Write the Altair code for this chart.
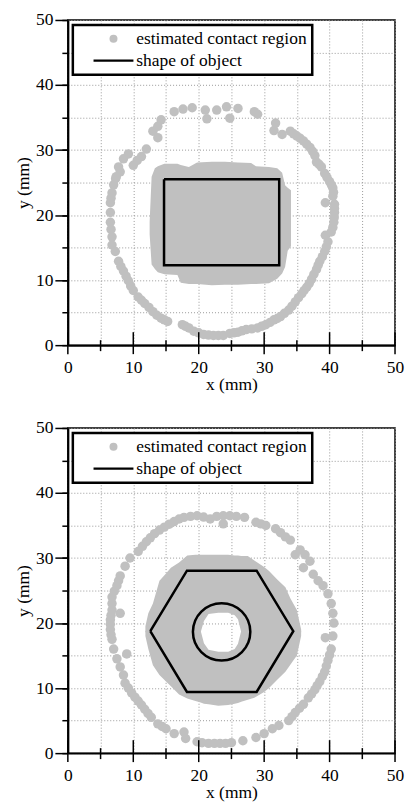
import altair as alt
import pandas as pd

LABEL_REGION = "estimated contact region"
LABEL_SHAPE = "shape of object"
SERIES = [LABEL_REGION, LABEL_SHAPE]

# ---------------- panel 1 (rectangle) ----------------
ring1_x = [16.25, 17.6, 19.0, 21.0, 21.25, 22.75, 24.25, 24.75, 26.0, 28.5, 29.0,
           14.25, 13.75, 13.0, 13.75, 12.0, 11.25, 10.6, 10.0, 9.25, 8.5, 7.75, 8.0, 7.4, 7.3, 7.0, 6.75, 6.6, 6.5, 6.5, 6.5, 6.6, 6.75, 6.75,
           7.25, 7.75, 8.1, 8.5, 8.9, 9.25, 9.6, 10.0, 10.75, 11.25, 11.75, 12.4, 13.0, 13.6, 14.25, 14.75, 15.25,
           17.5, 18.0, 18.5, 19.25, 20.0, 20.75, 21.5, 22.25, 23.0, 23.75, 24.75, 25.4, 26.0, 26.6, 27.25, 28.1, 29.0, 29.6,
           30.25, 30.9, 31.5, 32.0, 32.5, 33.1, 33.75,
           34.25, 34.75, 35.25, 35.75, 36.1, 36.5, 36.9, 37.25, 37.6, 38.0, 38.25, 38.5, 38.9, 39.25, 39.5, 39.75, 39.35,
           40.25, 40.5, 40.65, 40.7, 40.75, 40.75, 40.75, 39.35, 40.5, 40.6, 40.5, 40.3, 40.0,
           39.6, 39.25, 38.75, 38.4, 38.0, 37.75, 37.4, 37.0, 36.5, 36.0, 35.5, 35.0, 34.5, 34.0, 32.75, 31.5, 31.75]
ring1_y = [35.9, 36.3, 36.5, 36.15, 34.8, 36.15, 36.65, 34.9, 36.4, 35.9, 35.5,
           34.65, 33.65, 32.9, 31.9, 30.15, 29.0, 28.4, 27.65, 29.4, 28.65, 27.4, 26.65, 25.9, 25.6, 24.65, 23.4, 22.6, 21.9, 20.4, 18.9, 17.8, 16.65, 15.4,
           14.4, 12.9, 12.1, 11.4, 10.6, 9.9, 9.1, 8.4, 7.4, 6.9, 6.4, 5.8, 5.15, 4.6, 4.15, 3.9, 3.65,
           3.15, 2.9, 2.65, 2.15, 1.9, 1.65, 1.55, 1.5, 1.5, 1.5, 1.8, 1.9, 2.0, 2.2, 2.4, 2.5, 2.65, 2.9,
           3.15, 3.5, 3.9, 4.1, 4.4, 4.9, 5.4,
           6.0, 6.65, 7.3, 7.9, 8.4, 8.9, 9.5, 10.15, 10.9, 11.65, 12.3, 12.9, 13.6, 14.4, 15.1, 15.9, 16.9,
           17.4, 18.1, 18.9, 19.6, 20.4, 21.0, 21.65, 21.9, 22.9, 23.5, 24.15, 24.6, 25.15,
           25.8, 26.4, 27.4, 27.8, 28.15, 29.15, 29.8, 30.4, 30.9, 31.4, 31.8, 32.15, 32.5, 32.9, 32.4, 33.0, 34.15]

region1_x = [12.5, 12.8, 13.3, 13.75, 14.75, 16.75, 17.25, 18.5, 19.75, 22.0, 24.0, 26.0, 28.0, 28.75, 30.75, 32.0, 32.75, 33.2, 33.6, 34.1]
region1_top = [19.0, 25.9, 27.2, 27.5, 27.9, 27.9, 27.7, 27.4, 28.1, 28.2, 28.2, 28.1, 28.0, 27.5, 27.4, 27.2, 26.5, 24.6, 24.2, 23.8]
region1_bottom = [17.0, 12.4, 11.7, 11.2, 10.9, 10.8, 9.6, 9.4, 9.4, 9.2, 9.3, 9.3, 9.4, 9.4, 9.5, 10.2, 11.0, 12.0, 14.5, 15.2]

rect1_x = [14.7, 32.3, 32.3, 14.7, 14.7]
rect1_y = [25.5, 25.5, 12.3, 12.3, 25.5]

# ---------------- panel 2 (hexagon nut) ----------------
ring2_x = [17.0, 17.75, 18.75, 19.75, 20.75, 21.75, 22.75, 23.75, 23.75, 24.75, 25.75, 27.0, 28.75, 29.5, 30.25, 31.75, 32.5,
           33.25, 34.0, 34.75, 35.5, 36.25, 37.0, 36.0,
           37.5, 38.25, 39.0, 39.75, 40.25, 40.5, 40.65, 39.35, 40.5, 40.25, 40.0, 39.75, 39.5, 39.25, 38.9, 38.5, 38.1,
           37.75, 37.25, 36.75, 36.0, 35.4, 34.75, 34.25, 33.75, 32.25, 31.25, 30.0, 28.75, 26.75, 25.0, 24.1, 23.25,
           22.4, 21.5, 20.5, 19.75, 18.0, 17.75, 16.25, 15.0, 14.4, 13.75,
           12.75, 12.25, 11.75, 11.25, 10.75, 10.25, 9.75, 9.25, 8.75, 8.5, 8.0, 7.5, 9.0, 7.0, 6.75, 6.6, 6.5, 6.5,
           6.5, 6.6, 6.75, 6.75, 8.0, 6.75, 7.1, 7.5, 7.75, 8.0,
           8.75, 9.5, 10.75, 11.4, 12.0, 12.6, 13.25, 14.0, 14.75, 15.5, 16.25]
ring2_y = [36.0, 36.25, 36.4, 36.5, 36.3, 36.0, 36.4, 35.25, 36.5, 36.5, 36.4, 36.25, 35.5, 35.25, 35.0, 34.5, 33.9,
           33.25, 32.75, 30.5, 31.25, 30.5, 29.5, 28.5,
           27.5, 26.5, 25.75, 24.5, 23.0, 21.5, 20.0, 17.75, 18.0, 16.0, 15.1, 14.25, 13.4, 12.5, 11.8, 11.0, 10.4,
           9.75, 9.1, 8.5, 7.5, 6.9, 6.25, 5.6, 5.0, 4.25, 3.75, 3.0, 2.4, 1.9, 1.6, 1.5, 1.5,
           1.5, 1.5, 1.6, 1.75, 2.25, 3.25, 3.0, 3.75, 4.1, 4.5,
           5.5, 6.1, 6.75, 7.4, 8.0, 8.6, 9.25, 10.0, 10.75, 12.0, 13.25, 14.5, 15.25, 16.0, 17.5, 18.2, 19.0, 19.8,
           20.5, 21.2, 22.0, 23.0, 21.5, 24.0, 24.9, 25.75, 26.5, 27.25,
           28.75, 30.0, 31.0, 31.8, 32.5, 33.1, 33.75, 34.3, 34.75, 35.2, 35.6]

region2_x = [11.85, 12.3, 13.0, 14.0, 15.0, 15.75, 17.0, 18.25, 19.5, 20.3, 20.8, 21.5, 23.0, 24.5, 25.5, 26.0, 26.5,
             27.5, 28.5, 30.0, 30.75, 32.0, 33.25, 34.0, 35.0, 35.65]
region2_top = [19.5, 21.5, 23.0, 26.5, 27.6, 28.5, 29.3, 30.4, 30.5, 30.5, 30.5, 30.5, 30.5, 30.5, 30.4, 30.4, 30.3,
               30.3, 29.6, 28.6, 28.0, 26.7, 25.5, 23.8, 22.0, 19.0]
region2_hole_top = [18.6, 18.6, 18.6, 18.6, 18.6, 18.6, 18.6, 18.6, 18.6, 18.6, 20.3, 21.4, 21.6, 21.6, 21.2, 20.6, 18.6,
                    18.6, 18.6, 18.6, 18.6, 18.6, 18.6, 18.6, 18.6, 18.6]
region2_hole_bottom = [18.8, 18.8, 18.8, 18.8, 18.8, 18.8, 18.8, 18.8, 18.8, 18.8, 16.9, 15.9, 15.6, 15.6, 16.0, 16.8, 18.8,
                       18.8, 18.8, 18.8, 18.8, 18.8, 18.8, 18.8, 18.8, 18.8]
region2_bottom = [18.0, 16.0, 13.5, 12.0, 11.0, 10.3, 9.0, 8.4, 8.0, 7.8, 7.6, 7.5, 7.3, 7.4, 7.6, 7.7, 7.9,
                  8.2, 8.5, 9.4, 10.0, 11.3, 12.5, 13.6, 15.0, 18.0]

hex2_x = [12.6, 18.2, 28.85, 34.45, 28.85, 18.2, 12.6]
hex2_y = [18.75, 28.05, 28.05, 18.75, 9.4, 9.4, 18.75]

hole2_cx = [23.5]
hole2_cy = [18.65]
hole2_diam = [8.8]

all_ticks = [0, 5, 10, 15, 20, 25, 30, 35, 40, 45, 50]
major_ticks = [0, 10, 20, 30, 40, 50]
minor_ticks = [5, 15, 25, 35, 45]

# ---------------- styling ----------------
W = 328
H = 326
FONT = "Liberation Serif"
GRAY = "#c0c0c0"
FS = 17.5

xscale = alt.Scale(domain=[0, 50], nice=False, zero=False)
yscale = alt.Scale(domain=[0, 50], nice=False, zero=False)
major_only = "datum.value % 10 === 0 ? datum.label : ''"
txt = dict(labelFont=FONT, titleFont=FONT, labelFontSize=FS, titleFontSize=FS,
           titleFontWeight="normal", labelColor="black", titleColor="black")
grid = dict(grid=True, gridDash=[1, 2], gridColor="#9a9a9a", gridWidth=1)

x_main = alt.Axis(values=all_ticks, labelExpr=major_only, ticks=False, domainColor="black",
                  domainWidth=2, labelPadding=13, labelFlush=False, labelOverlap=False,
                  title="x (mm)", titlePadding=0, **grid, **txt)
y_major = alt.Axis(orient="left", values=major_ticks, ticks=True, tickSize=13, tickWidth=1.5,
                   tickColor="black", grid=False, domainColor="black", domainWidth=2,
                   labelPadding=2, labelFlush=False, labelOverlap=False,
                   title="y (mm)", titlePadding=3, zindex=1, **txt)
y_minor = alt.Axis(orient="left", values=all_ticks, ticks=True, tickSize=6, tickWidth=1.5,
                   tickColor="black", labels=False, domain=False, title=None, **grid)

legend = alt.Legend(
    title=None, orient="top-left", offset=5, padding=5, fillColor="white",
    labelFont=FONT, labelFontSize=17.5, labelColor="black", labelLimit=400,
    symbolSize=64, symbolOffset=27, labelOffset=14,
    symbolStrokeWidth=0, symbolOpacity=1,
    labelExpr="datum.label + '\u2003\u2003\u2003\u2002'",
)
color_scale = alt.Scale(domain=SERIES, range=[GRAY, "black"])
shape_scale = alt.Scale(domain=SERIES, range=["circle", "M-5,-0.3L5,-0.3L5,0.3L-5,0.3Z"])


def panel(ring_x, ring_y, region_df, outline_x, outline_y, circle=None):
    ring_df = pd.DataFrame({"x": ring_x, "y": ring_y, "series": LABEL_REGION})
    outline_df = pd.DataFrame({"x": outline_x, "y": outline_y, "i": list(range(len(outline_x)))})

    area = alt.Chart(region_df).mark_area(color=GRAY, opacity=1, interpolate="linear").encode(
        x=alt.X("x:Q", scale=xscale, axis=x_main),
        y=alt.Y("top:Q", scale=yscale, axis=y_minor),
        y2="bottom:Q",
        detail="part:N",
    )
    pts = alt.Chart(ring_df).mark_point(filled=True, size=90, opacity=1).encode(
        x=alt.X("x:Q", scale=xscale, axis=None),
        y=alt.Y("y:Q", scale=yscale, axis=y_major),
        color=alt.Color("series:N", scale=color_scale, legend=legend),
        shape=alt.Shape("series:N", scale=shape_scale, legend=legend),
    )
    line = alt.Chart(outline_df).mark_line(color="black", strokeWidth=2.5).encode(
        x=alt.X("x:Q", scale=xscale, axis=None),
        y=alt.Y("y:Q", scale=yscale, axis=None),
        order="i:Q",
    )
    # x-axis ticks crossing the axis line (long upward into the plot)
    maj = alt.Chart(pd.DataFrame({"v": major_ticks})).mark_rule(color="black", strokeWidth=1.5).encode(
        x=alt.X("v:Q", scale=xscale, axis=None), y=alt.value(H - 13), y2=alt.value(H + 9))
    mnr = alt.Chart(pd.DataFrame({"v": minor_ticks})).mark_rule(color="black", strokeWidth=1.5).encode(
        x=alt.X("v:Q", scale=xscale, axis=None), y=alt.value(H - 5), y2=alt.value(H + 6))
    layers = [area, pts, line]
    if circle is not None:
        cx, cy, d = circle
        size = (d[0] * (W + H) / 100.0) ** 2
        cdf = pd.DataFrame({"x": cx, "y": cy})
        circ = alt.Chart(cdf).mark_point(shape="circle", filled=False, color="black",
                                         strokeWidth=2.5, size=size, opacity=1).encode(
            x=alt.X("x:Q", scale=xscale, axis=None),
            y=alt.Y("y:Q", scale=yscale, axis=None),
        )
        layers.append(circ)
    layers += [maj, mnr]
    return alt.layer(*layers).resolve_axis(x="independent", y="independent").properties(width=W, height=H)


region1_df = pd.DataFrame({"x": region1_x, "top": region1_top, "bottom": region1_bottom, "part": "a"})
region2_df = pd.concat([
    pd.DataFrame({"x": region2_x, "top": region2_top, "bottom": region2_hole_top, "part": "upper"}),
    pd.DataFrame({"x": region2_x, "top": region2_hole_bottom, "bottom": region2_bottom, "part": "lower"}),
])

p1 = panel(ring1_x, ring1_y, region1_df, rect1_x, rect1_y)
p2 = panel(ring2_x, ring2_y, region2_df, hex2_x, hex2_y, circle=(hole2_cx, hole2_cy, hole2_diam))

chart = alt.vconcat(p1, p2, spacing=24).resolve_scale(
    color="independent", shape="independent"
).resolve_legend(color="independent", shape="independent").properties(
    padding={"left": 5, "top": 1, "right": 0, "bottom": 0},
    background="white",
).configure_view(
    stroke="black", strokeWidth=1.5
).configure_axis(
    labelFont=FONT, titleFont=FONT,
).configure_legend(
    strokeColor="black", strokeWidth=2.5, rowPadding=3,
)

chart.save("out.html", embed_options={"renderer": "svg", "actions": False})
